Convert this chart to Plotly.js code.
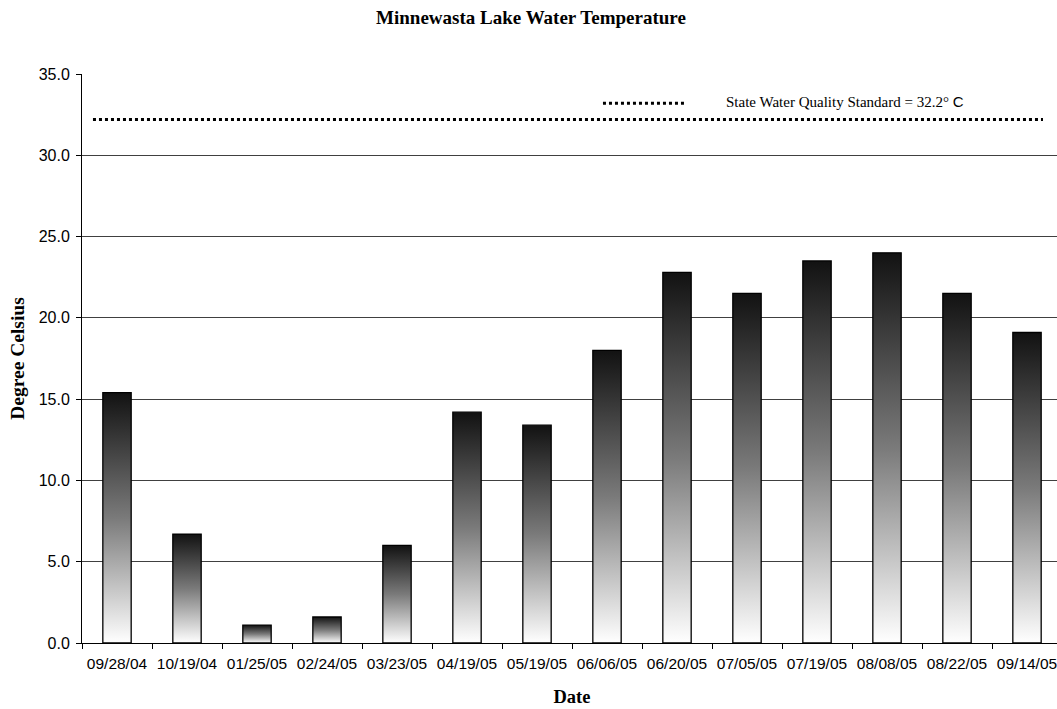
<!DOCTYPE html>
<html>
<head>
<meta charset="utf-8">
<script src="https://cdn.plot.ly/plotly-3.0.1.min.js"></script>
<style>
html, body { margin: 0; padding: 0; overflow: hidden; background: #fff; }
#chart { width: 1062px; height: 709px; }
</style>
</head>
<body>
<div id="chart"></div>
<script>
// Data
const dates = ['09/28/04','10/19/04','01/25/05','02/24/05','03/23/05','04/19/05','05/19/05','06/06/05','06/20/05','07/05/05','07/19/05','08/08/05','08/22/05','09/14/05'];
const temps = [15.4, 6.7, 1.1, 1.6, 6.0, 14.2, 13.4, 18.0, 22.8, 21.5, 23.5, 24.0, 21.5, 19.1];
const standardValue = 32.2;
const standardLabel = 'State Water Quality Standard = 32.2° <span style="font-family:Arial, \'Liberation Sans\', sans-serif">C</span>';
const yTicks = [0, 5, 10, 15, 20, 25, 30, 35];

const serif = "'Times New Roman', 'Liberation Serif', serif";
const sans = "Arial, 'Liberation Sans', sans-serif";

const trace = {
  type: 'bar',
  x: dates,
  y: temps,
  marker: { color: '#808080', line: { color: '#000', width: 1.3 } },
  hoverinfo: 'x+y'
};

const layout = {
  width: 1062,
  height: 709,
  margin: { l: 82, r: 0, t: 74, b: 66 },
  paper_bgcolor: '#fff',
  plot_bgcolor: '#fff',
  showlegend: false,
  bargap: 0.595,
  title: {
    text: '<b>Minnewasta Lake Water Temperature</b>',
    font: { family: serif, size: 19, color: '#000' },
    x: 0.5, xref: 'container', xanchor: 'center',
    y: 0.975, yref: 'container', yanchor: 'middle'
  },
  xaxis: {
    type: 'category',
    tickson: 'boundaries',
    ticks: 'outside',
    ticklen: 5,
    tickcolor: '#000',
    ticklabelstandoff: 6,
    showline: true,
    linecolor: '#000',
    linewidth: 1,
    showgrid: false,
    tickfont: { family: sans, size: 15.5, color: '#000' },
    title: { text: '<b>Date</b>', font: { family: serif, size: 18.5, color: '#000' }, standoff: 19 },
    fixedrange: true
  },
  yaxis: {
    range: [0, 35],
    tickvals: yTicks,
    ticktext: yTicks.map(v => v.toFixed(1)),
    ticks: 'outside',
    ticklen: 5,
    tickcolor: '#000',
    ticklabelstandoff: 3,
    showline: true,
    linecolor: '#000',
    linewidth: 1,
    showgrid: true,
    gridcolor: '#404040',
    gridwidth: 1,
    zeroline: true,
    zerolinecolor: '#000',
    tickfont: { family: sans, size: 16, color: '#000' },
    title: { text: '<b>Degree Celsius</b>', font: { family: serif, size: 19.5, color: '#000' }, standoff: 8 },
    fixedrange: true
  },
  shapes: [
    {
      type: 'line', xref: 'paper', yref: 'y',
      x0: 0.0112, x1: 0.9806, y0: standardValue, y1: standardValue,
      line: { color: '#000', width: 3, dash: 'dot' }
    },
    {
      type: 'line', xref: 'paper', yref: 'y',
      x0: 0.5316, x1: 0.6163, y0: 33.2, y1: 33.2,
      line: { color: '#000', width: 3, dash: 'dot' }
    }
  ],
  annotations: [
    {
      xref: 'paper', yref: 'y', x: 0.655, y: 33.3,
      xanchor: 'left', yanchor: 'middle', showarrow: false,
      text: standardLabel,
      font: { family: serif, size: 15, color: '#000' }
    }
  ]
};

function applyGradient(gd) {
  const svg = gd.querySelector('.main-svg');
  if (!svg) return;
  let defs = svg.querySelector('defs');
  if (!defs) {
    defs = document.createElementNS('http://www.w3.org/2000/svg', 'defs');
    svg.insertBefore(defs, svg.firstChild);
  }
  if (!defs.querySelector('#barGrad')) {
    const g = document.createElementNS('http://www.w3.org/2000/svg', 'linearGradient');
    g.setAttribute('id', 'barGrad');
    g.setAttribute('x1', '0'); g.setAttribute('y1', '0');
    g.setAttribute('x2', '0'); g.setAttribute('y2', '1');
    [['0', '#121212'], ['0.5', '#7a7a7a'], ['1', '#ffffff']].forEach(([o, c]) => {
      const s = document.createElementNS('http://www.w3.org/2000/svg', 'stop');
      s.setAttribute('offset', o);
      s.setAttribute('stop-color', c);
      g.appendChild(s);
    });
    defs.appendChild(g);
  }
  gd.querySelectorAll('.bars .point path').forEach(p => {
    p.style.fill = 'url(#barGrad)';
    p.style.fillOpacity = 1;
  });
}

const gd = document.getElementById('chart');
Plotly.newPlot(gd, [trace], layout, { displayModeBar: false, staticPlot: true }).then(() => {
  applyGradient(gd);
  gd.on('plotly_afterplot', () => applyGradient(gd));
});
</script>
</body>
</html>
